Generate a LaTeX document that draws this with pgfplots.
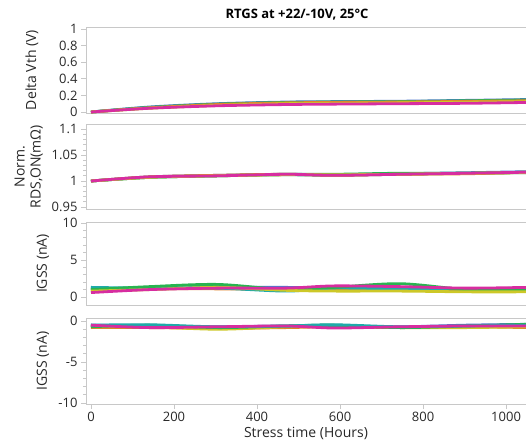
\documentclass[border=0pt]{standalone}
\usepackage{fontspec}
\setmainfont{Open Sans}
\usepackage{pgfplots}
\pgfplotsset{compat=1.18}
\definecolor{axgray}{RGB}{200,200,200}
\definecolor{txt}{RGB}{40,40,40}
\definecolor{sblue}{RGB}{80,120,205}
\definecolor{sgreen}{RGB}{40,180,80}
\definecolor{sorange}{RGB}{225,130,40}
\definecolor{steal}{RGB}{30,170,170}
\definecolor{syellow}{RGB}{205,200,40}
\definecolor{smag}{RGB}{215,45,160}
\newcommand{\fs}{\fontsize{13}{15}\selectfont}
\newcommand{\fl}{\fontsize{14}{16}\selectfont}

\pgfplotsset{
  panel/.style={
    scale only axis, width=440pt,
    xmin=-12, xmax=1048,
    axis x line*=box, axis y line*=left,
    axis line style={draw=axgray, line width=1pt},
    every tick/.style={draw=axgray, line width=0.8pt},
    major tick length=5pt, minor tick length=3pt,
    tick align=outside, ytick pos=left, xtick pos=bottom,
    ticklabel style={font=\fs, text=txt},
    label style={font=\fl, text=txt},
    /pgf/number format/assume math mode=true,
    /pgf/number format/1000 sep={},
    xtick=\empty,
    every axis plot/.append style={line width=2.8pt, smooth, tension=0.5, no markers},
  },
}

\begin{document}
\begin{tikzpicture}

\node[font=\fontsize{13}{15}\selectfont\bfseries, text=black] at (297pt,-15pt) {RTGS at +22/-10V, 25°C};

% Delta Vth
\begin{axis}[panel, at={(86pt,-27pt)}, anchor=north west, height=86pt,
    ymin=-0.012, ymax=1.024, ytick={0,0.2,...,1},
    yticklabels={0,0.2,0.4,0.6,0.8,1},
    ylabel={Delta Vth (V)},
    ylabel style={at={(axis description cs:-0.123,0.5)}, anchor=center}]
\addplot[sblue] coordinates {(0,0) (140,0.06) (305,0.10) (470,0.12) (585,0.125) (745,0.13) (905,0.14) (1050,0.15)};
\addplot[sgreen] coordinates {(0,0) (140,0.055) (305,0.095) (470,0.115) (585,0.12) (745,0.125) (905,0.135) (1050,0.145)};
\addplot[steal] coordinates {(0,0) (140,0.05) (305,0.085) (470,0.105) (585,0.11) (745,0.115) (905,0.12) (1050,0.13)};
\addplot[sorange] coordinates {(0,0) (140,0.05) (305,0.09) (470,0.11) (585,0.115) (745,0.12) (905,0.128) (1050,0.135)};
\addplot[syellow] coordinates {(0,0) (140,0.045) (305,0.08) (470,0.10) (585,0.105) (745,0.11) (905,0.118) (1050,0.125)};
\addplot[smag] coordinates {(0,0) (140,0.045) (305,0.075) (470,0.09) (585,0.095) (745,0.10) (905,0.105) (1050,0.115)};
\end{axis}

% Norm. RDS,ON
\begin{axis}[panel, at={(86pt,-124pt)}, anchor=north west, height=85pt,
    ymin=0.946, ymax=1.11, ytick={0.95,1,1.05,1.1},
    yticklabels={0.95,1,1.05,1.1}, minor y tick num=4,
    ylabel={Norm.\\RDS,ON(mΩ)},
    ylabel style={at={(axis description cs:-0.13,0.5)}, anchor=center, align=center}]
\addplot[sblue] coordinates {(0,1.0) (140,1.008) (305,1.011) (470,1.013) (585,1.012) (745,1.014) (905,1.016) (1050,1.018)};
\addplot[sgreen] coordinates {(0,1.0) (140,1.007) (305,1.010) (470,1.013) (585,1.013) (745,1.015) (905,1.015) (1050,1.017)};
\addplot[steal] coordinates {(0,1.0) (140,1.007) (305,1.010) (470,1.012) (585,1.011) (745,1.013) (905,1.015) (1050,1.016)};
\addplot[sorange] coordinates {(0,1.0) (140,1.008) (305,1.011) (470,1.013) (585,1.011) (745,1.013) (905,1.014) (1050,1.017)};
\addplot[syellow] coordinates {(0,1.0) (140,1.007) (305,1.010) (470,1.012) (585,1.012) (745,1.013) (905,1.015) (1050,1.016)};
\addplot[smag] coordinates {(0,1.0) (140,1.008) (305,1.010) (470,1.013) (585,1.011) (745,1.013) (905,1.015) (1050,1.017)};
\end{axis}

% IGSS positive
\begin{axis}[panel, at={(86pt,-222pt)}, anchor=north west, height=83pt,
    ymin=-1.08, ymax=10.13, ytick={0,5,10},
    yticklabels={0,5,10}, minor y tick num=4,
    ylabel={IGSS (nA)},
    ylabel style={at={(axis description cs:-0.098,0.5)}, anchor=center}]
\addplot[sblue] coordinates {(0,1.1) (140,1.2) (305,1.3) (470,1.3) (585,1.2) (745,1.2) (905,1.1) (1050,1.1)};
\addplot[sorange] coordinates {(0,0.9) (140,1.1) (305,1.1) (470,1.0) (585,1.0) (745,1.0) (905,0.8) (1050,0.8)};
\addplot[steal] coordinates {(0,1.3) (140,1.2) (305,1.2) (470,0.8) (585,1.2) (745,1.1) (905,1.1) (1050,1.2)};
\addplot[sgreen] coordinates {(0,1.0) (140,1.4) (305,1.7) (470,1.0) (585,1.3) (745,1.8) (905,1.0) (1050,0.9)};
\addplot[syellow] coordinates {(0,0.8) (140,1.0) (305,1.3) (470,0.9) (585,0.8) (745,0.8) (905,0.7) (1050,0.7)};
\addplot[smag] coordinates {(0,0.6) (140,1.0) (305,1.2) (470,1.2) (585,1.5) (745,1.4) (905,1.2) (1050,1.3)};
\end{axis}

% IGSS negative
\begin{axis}[panel, at={(86pt,-318pt)}, anchor=north west, height=86pt,
    ymin=-10.12, ymax=0.37, ytick={-10,-5,0},
    yticklabels={-10,-5,0}, minor y tick num=4,
    xtick={0,200,...,1000},
    xlabel={Stress time (Hours)},
    xlabel style={yshift=2pt},
    ylabel={IGSS (nA)},
    ylabel style={at={(axis description cs:-0.098,0.5)}, anchor=center}]
\addplot[sorange] coordinates {(0,-0.8) (140,-0.8) (305,-0.9) (470,-0.8) (585,-0.7) (745,-0.8) (905,-0.7) (1050,-0.8)};
\addplot[syellow] coordinates {(0,-0.7) (140,-0.7) (305,-1.0) (470,-0.7) (585,-0.6) (745,-0.8) (905,-0.8) (1050,-0.7)};
\addplot[sblue] coordinates {(0,-0.5) (140,-0.6) (305,-0.7) (470,-0.6) (585,-0.6) (745,-0.7) (905,-0.5) (1050,-0.4)};
\addplot[sgreen] coordinates {(0,-0.7) (140,-0.5) (305,-0.8) (470,-0.6) (585,-0.5) (745,-0.8) (905,-0.6) (1050,-0.4)};
\addplot[steal] coordinates {(0,-0.5) (140,-0.45) (305,-0.7) (470,-0.6) (585,-0.45) (745,-0.7) (905,-0.6) (1050,-0.5)};
\addplot[smag] coordinates {(0,-0.5) (140,-0.8) (305,-0.7) (470,-0.6) (585,-0.85) (745,-0.7) (905,-0.6) (1050,-0.6)};
\end{axis}

\pgfresetboundingbox
\useasboundingbox (0pt,-442pt) rectangle (526pt,0pt);
\end{tikzpicture}
\end{document}
